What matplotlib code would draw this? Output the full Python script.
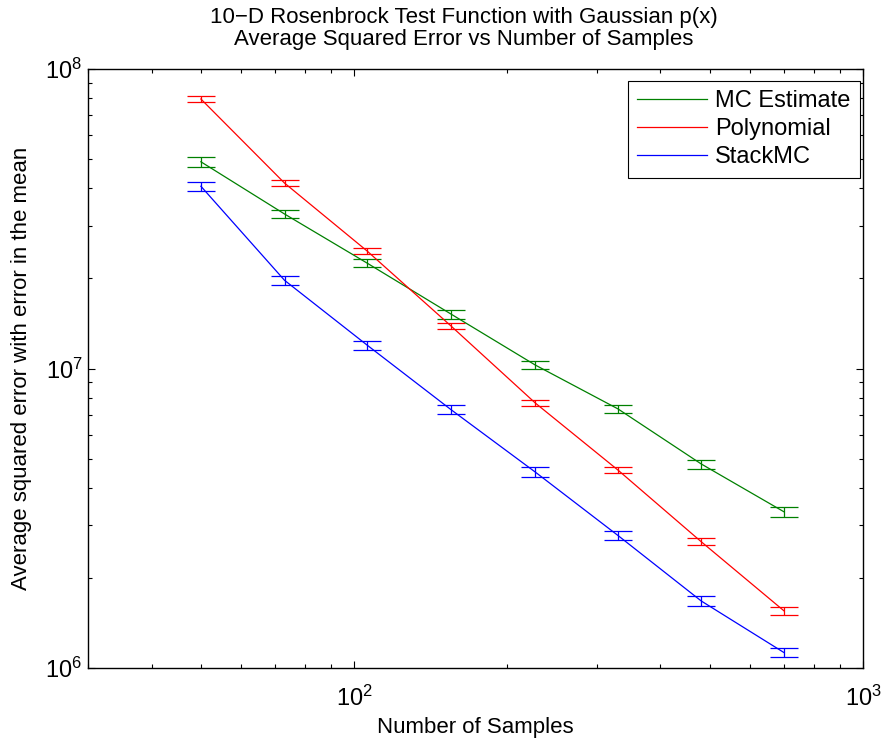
import matplotlib
matplotlib.use('Agg')
import matplotlib.pyplot as plt
from matplotlib.ticker import LogLocator, NullFormatter

# Number of samples
n_samples = [50, 73, 106, 155, 227, 330, 481, 700]

# Average squared error (mean) and error in the mean
mc_mean = [4.90e7, 3.28e7, 2.25e7, 1.52e7, 1.027e7, 7.33e6, 4.80e6, 3.32e6]
mc_err = [1.78e6, 1.10e6, 7.6e5, 5.2e5, 3.3e5, 2.5e5, 1.65e5, 1.16e5]

poly_mean = [7.94e7, 4.16e7, 2.47e7, 1.387e7, 7.67e6, 4.58e6, 2.64e6, 1.55e6]
poly_err = [1.8e6, 8.6e5, 5.1e5, 2.9e5, 1.85e5, 1.1e5, 7.1e4, 4.6e4]

stack_mean = [4.06e7, 1.97e7, 1.198e7, 7.29e6, 4.51e6, 2.77e6, 1.674e6, 1.125e6]
stack_err = [1.46e6, 6.3e5, 4.1e5, 2.5e5, 1.62e5, 9.7e4, 5.9e4, 3.9e4]

plt.rcParams['font.family'] = ['Liberation Sans', 'DejaVu Sans']
plt.rcParams['mathtext.fontset'] = 'custom'
plt.rcParams['mathtext.rm'] = 'Liberation Sans'
plt.rcParams['mathtext.it'] = 'Liberation Sans:italic'
plt.rcParams['mathtext.bf'] = 'Liberation Sans:bold'

fig = plt.figure(figsize=(8.85, 7.44), dpi=100)
ax = fig.add_axes([88 / 885, 1 - 668 / 744, (863 - 88) / 885, (668 - 69) / 744])

series = [
    ('MC Estimate', mc_mean, mc_err, (0, 0.5, 0)),
    ('Polynomial', poly_mean, poly_err, (1, 0, 0)),
    ('StackMC', stack_mean, stack_err, (0, 0, 1)),
]
for label, mean, err, color in series:
    ax.errorbar(n_samples, mean, yerr=err, color=color, linewidth=0.9,
                elinewidth=0.9, capsize=10, capthick=0.9, label=label)

ax.set_xscale('log')
ax.set_yscale('log')
ax.set_xlim(30, 1000)
ax.set_ylim(1e6, 1e8)

for axis in (ax.xaxis, ax.yaxis):
    axis.set_minor_locator(LogLocator(base=10, subs=range(2, 10)))
    axis.set_minor_formatter(NullFormatter())
ax.tick_params(which='both', direction='in', top=True, right=True, width=0.8)
ax.tick_params(which='major', length=5, labelsize=17)
ax.tick_params(axis='x', which='major', pad=13)
ax.tick_params(axis='y', which='major', pad=4)
ax.tick_params(which='minor', length=3)
for s in ax.spines.values():
    s.set_linewidth(1.0)

ax.set_xlabel('Number of Samples', fontsize=16, labelpad=4)
ax.set_ylabel('Average squared error with error in the mean', fontsize=16,
              labelpad=10)
ax.set_title('10\u2212D Rosenbrock Test Function with Gaussian p(x)\n'
             'Average Squared Error vs Number of Samples', fontsize=16,
             linespacing=1.1, pad=17, x=0.485)

handles, labels = ax.get_legend_handles_labels()
handles = [h[0] for h in handles]
leg = ax.legend(handles, labels, loc='upper right',
                bbox_to_anchor=((860 - 88) / 775, (668 - 81) / 599),
                borderaxespad=0, fancybox=False, edgecolor='black',
                framealpha=1, fontsize=17, handlelength=2.95,
                handletextpad=0.35, labelspacing=0.25, borderpad=0.4)
leg.get_frame().set_linewidth(0.8)

fig.savefig('out.png', dpi=100)
